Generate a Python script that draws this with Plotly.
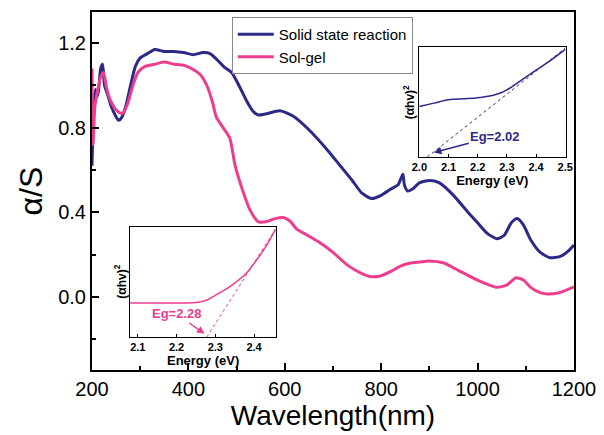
import plotly.graph_objects as go

# ---- main data ----
wl_solid = [200, 203, 207, 212, 218, 222, 226, 232, 240, 248, 255, 262, 270, 280, 290, 300, 315, 330, 350,
            370, 390, 410, 430, 445, 460, 475, 490, 507, 520, 535, 545, 560, 590, 617, 650, 690,
            715, 740, 760, 780, 800, 820, 835, 845, 848, 855, 865, 880, 900, 920, 950, 980, 1000, 1020,
            1040, 1055, 1070, 1082, 1095, 1110, 1130, 1150, 1170, 1185, 1200]
as_solid = [0.62, 0.85, 0.98, 0.95, 1.08, 1.10, 1.00, 0.96, 0.90, 0.86, 0.835, 0.85, 0.90, 1.00, 1.09, 1.13,
            1.15, 1.17, 1.16, 1.16, 1.155, 1.145, 1.155, 1.15, 1.12, 1.085, 1.06, 0.99, 0.93, 0.875, 0.86,
            0.865, 0.88, 0.855, 0.79, 0.69, 0.62, 0.55, 0.49, 0.465, 0.48, 0.51, 0.53, 0.58,
            0.53, 0.50, 0.51, 0.54, 0.55, 0.54, 0.48, 0.40, 0.35, 0.30, 0.275, 0.29, 0.35, 0.37, 0.34, 0.27,
            0.21, 0.185, 0.19, 0.21, 0.245]

wl_solgel = [200, 202, 206, 212, 218, 224, 230, 238, 248, 258, 265, 275, 285, 295, 310, 330, 350, 370, 390,
             410, 425, 440, 450, 458, 472, 486, 497, 513, 528, 545, 560, 580, 597, 610, 625,
             640, 670, 700, 730, 760, 780, 800, 820, 840, 860, 880, 900, 930, 960, 990, 1020, 1040, 1060,
             1080, 1095, 1110, 1130, 1145, 1170, 1200]
as_solgel = [1.08, 0.72, 0.90, 0.98, 1.04, 1.06, 0.99, 0.93, 0.89, 0.87, 0.87, 0.92, 1.00, 1.06, 1.09, 1.10,
             1.11, 1.10, 1.095, 1.075, 1.05, 0.99, 0.92, 0.85, 0.80, 0.75, 0.62, 0.50, 0.41, 0.355,
             0.355, 0.37, 0.375, 0.36, 0.32, 0.30, 0.26, 0.21, 0.15, 0.11, 0.095, 0.10, 0.12,
             0.145, 0.16, 0.165, 0.17, 0.16, 0.125, 0.09, 0.06, 0.045, 0.055, 0.09, 0.08, 0.045, 0.02,
             0.013, 0.02, 0.047]

main_x_ticks = [200, 400, 600, 800, 1000, 1200]
main_y_ticks = [0.0, 0.4, 0.8, 1.2]
main_y_labels = ["0.0", "0.4", "0.8", "1.2"]

# ---- inset data ----
e_solid = [2.0, 2.05, 2.1, 2.15, 2.2, 2.25, 2.28, 2.3, 2.35, 2.4, 2.45, 2.5]
ahv_solid = [0.46, 0.49, 0.52, 0.53, 0.54, 0.56, 0.585, 0.61, 0.70, 0.79, 0.88, 0.98]
fit_solid_e = [2.027, 2.5]
fit_solid_y = [0.0, 0.99]
inset1_ticks = [2.0, 2.1, 2.2, 2.3, 2.4, 2.5]

e_solgel = [2.08, 2.12, 2.16, 2.2, 2.24, 2.26, 2.28, 2.3, 2.33, 2.35, 2.38, 2.4, 2.43, 2.455]
ahv_solgel = [0.31, 0.31, 0.31, 0.31, 0.312, 0.32, 0.34, 0.38, 0.44, 0.49, 0.58, 0.67, 0.82, 0.98]
fit_solgel_e = [2.278, 2.455]
fit_solgel_y = [0.0, 0.98]
inset2_ticks = [2.1, 2.2, 2.3, 2.4]

BLUE = "#2b2a86"
PINK = "#ee3d8f"
FONT = "Liberation Sans, Arial, sans-serif"

fig = go.Figure()
fig.add_trace(go.Scatter(x=wl_solid, y=as_solid, mode="lines", name="Solid state reaction",
                         line=dict(color=BLUE, width=3, shape="spline", smoothing=0.6)))
fig.add_trace(go.Scatter(x=wl_solgel, y=as_solgel, mode="lines", name="Sol-gel",
                         line=dict(color=PINK, width=3, shape="spline", smoothing=0.6)))

# inset 1 (solid state)
fig.add_trace(go.Scatter(x=e_solid, y=ahv_solid, mode="lines", xaxis="x2", yaxis="y2", showlegend=False,
                         line=dict(color=BLUE, width=1.5, shape="spline")))
fig.add_trace(go.Scatter(x=fit_solid_e, y=fit_solid_y, mode="lines", xaxis="x2", yaxis="y2", showlegend=False,
                         line=dict(color=BLUE, width=1, dash="dot")))
# inset 2 (sol-gel)
fig.add_trace(go.Scatter(x=e_solgel, y=ahv_solgel, mode="lines", xaxis="x3", yaxis="y3", showlegend=False,
                         line=dict(color=PINK, width=1.5, shape="spline")))
fig.add_trace(go.Scatter(x=fit_solgel_e, y=fit_solgel_y, mode="lines", xaxis="x3", yaxis="y3", showlegend=False,
                         line=dict(color=PINK, width=1, dash="dot")))

inset_x = dict(showline=True, linecolor="black", linewidth=1, mirror=True, ticks="inside", ticklen=3,
               tickcolor="black", showgrid=False, zeroline=False, automargin=False,
               tickfont=dict(family=FONT, size=11, color="black"),
               title=dict(text="<b>Energy (eV)</b>", font=dict(family=FONT, size=13, color="black"), standoff=0))
inset_y = dict(showline=True, linecolor="black", linewidth=1, mirror=True, ticks="", showticklabels=False,
               showgrid=False, zeroline=False, range=[0, 1], automargin=False)

# page body has an 8px margin: shift plot area so it lands at the reference position
fig.update_layout(
    width=604, height=435,
    margin=dict(l=84, r=38, t=4, b=73),
    paper_bgcolor="white", plot_bgcolor="white",
    font=dict(family=FONT, color="black"),
    xaxis=dict(domain=[0, 1], range=[200, 1200], tickvals=main_x_ticks, ticks="inside", ticklen=7,
               tickwidth=2, tickcolor="black", showline=True, linewidth=2, linecolor="black", mirror=True,
               showgrid=False, zeroline=False, automargin=False,
               minor=dict(dtick=100, tick0=200, ticks="inside", ticklen=4, tickwidth=2, tickcolor="black"),
               tickfont=dict(family=FONT, size=20),
               title=dict(text="Wavelength(nm)", font=dict(family=FONT, size=28), standoff=3)),
    yaxis=dict(domain=[0, 1], range=[-0.346, 1.347], tickvals=main_y_ticks,
               ticktext=main_y_labels, ticks="inside", ticklen=7, tickwidth=2,
               tickcolor="black", showline=True, linewidth=2, linecolor="black", mirror=True,
               showgrid=False, zeroline=False, automargin=False,
               minor=dict(tickvals=[-0.2, 0.2, 0.6, 1.0], ticks="inside", ticklen=4, tickwidth=2,
                          tickcolor="black"),
               tickfont=dict(family=FONT, size=20),
               title=dict(text="α/S", font=dict(family=FONT, size=32), standoff=6)),
    xaxis2=dict(domain=[0.678, 0.983], anchor="y2", range=[1.998, 2.502], tickvals=inset1_ticks,
                ticktext=["<b>%.1f</b>" % v for v in inset1_ticks], **inset_x),
    yaxis2=dict(domain=[0.595, 0.902], anchor="x2", **inset_y),
    xaxis3=dict(domain=[0.079, 0.382], anchor="y3", range=[2.08, 2.457], tickvals=inset2_ticks,
                ticktext=["<b>%.1f</b>" % v for v in inset2_ticks], **inset_x),
    yaxis3=dict(domain=[0.092, 0.399], anchor="x3", **inset_y),
    legend=dict(x=0.29, y=0.986, xanchor="left", yanchor="top", bgcolor="white", bordercolor="#888888",
                borderwidth=1, font=dict(family=FONT, size=15), tracegroupgap=0, itemwidth=36),
    showlegend=True,
)

for xr, yr in (("x2 domain", "y2 domain"), ("x3 domain", "y3 domain")):
    fig.add_annotation(x=-0.065, y=0.5, xref=xr, yref=yr, xanchor="center", yanchor="middle",
                       text="<b>(αhv)<sup>2</sup></b>", textangle=-90, showarrow=False,
                       font=dict(family=FONT, size=12, color="black"))

fig.add_annotation(x=2.05, y=0.04, xref="x2", yref="y2", ax=2.26, ay=0.19, axref="x2", ayref="y2",
                   text="<b>Eg=2.02</b>", font=dict(family=FONT, size=13, color=BLUE),
                   showarrow=True, arrowhead=2, arrowsize=1, arrowwidth=1.5, arrowcolor=BLUE)
fig.add_annotation(x=2.272, y=0.03, xref="x3", yref="y3", ax=2.2, ay=0.21, axref="x3", ayref="y3",
                   text="<b>Eg=2.28</b>", font=dict(family=FONT, size=13, color=PINK),
                   showarrow=True, arrowhead=2, arrowsize=1, arrowwidth=1.5, arrowcolor=PINK)

fig.write_html("out.html")
